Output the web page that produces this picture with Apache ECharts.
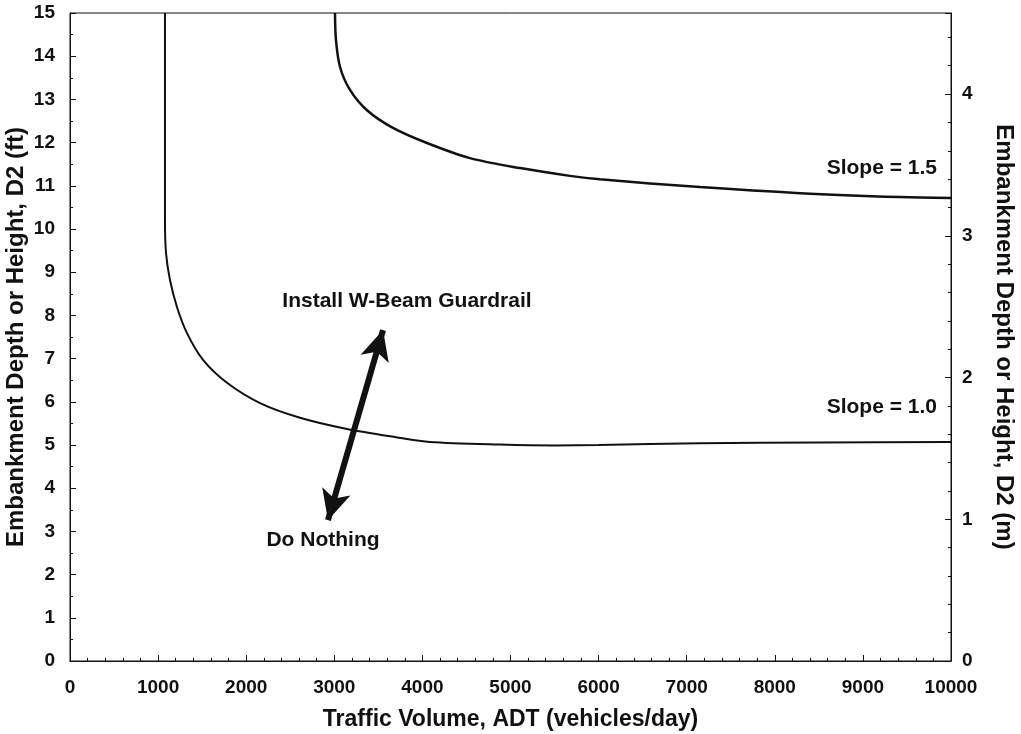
<!DOCTYPE html>
<html>
<head>
<meta charset="utf-8">
<script src="https://cdn.jsdelivr.net/npm/echarts@6/dist/echarts.min.js"></script>
<style>
  html, body { margin: 0; padding: 0; background: #fff; }
  #chart { width: 1021px; height: 734px; }
</style>
</head>
<body>
<div id="chart"></div>
<script>
// curves: [ADT, depth in ft]
const slope10 = [
  [1078, 15], [1078, 10.2], [1090, 9.44], [1135, 8.82], [1215, 8.19],
  [1328, 7.59], [1510, 6.97], [1782, 6.44], [2157, 5.97], [2611, 5.63],
  [3144, 5.37], [3700, 5.18], [4086, 5.07], [4881, 5.01], [5500, 4.99],
  [6000, 5.0], [7151, 5.04], [8500, 5.06], [10000, 5.07]
];
const slope15 = [
  [3008, 15], [3019, 14.37], [3065, 13.75], [3178, 13.22], [3371, 12.75],
  [3666, 12.34], [4052, 11.99], [4540, 11.64], [5108, 11.41], [5675, 11.23],
  [6016, 11.15], [7151, 10.97], [8286, 10.83], [9421, 10.74], [10000, 10.72]
];
const arrowEnds = [[2928, 3.26], [3553, 7.66]];
const notes = [
  { text: 'Install W-Beam Guardrail', at: [3825, 8.33], align: 'center' },
  { text: 'Do Nothing', at: [2872, 2.80], align: 'center' },
  { text: 'Slope = 1.5', at: [9841, 11.41], align: 'right' },
  { text: 'Slope = 1.0', at: [9841, 5.88], align: 'right' }
];
const ftMax = 15;
const mMax = 15 * 0.3048;

const font = 'Liberation Sans, Arial, sans-serif';
const ink = '#111';

let chart = echarts.init(document.getElementById('chart'));

let axisCommon = {
  axisLine: { show: true, lineStyle: { color: ink, width: 1 } },
  axisTick: { show: true, inside: true, length: 6, lineStyle: { color: ink } },
  minorTick: { show: true, length: 3, lineStyle: { color: ink } },
  splitLine: { show: false },
  axisLabel: {
    color: ink, fontFamily: font, fontWeight: 'bold', fontSize: 19,
    formatter: v => String(v)
  },
  nameMoveOverlap: false,
  nameTextStyle: { color: ink, fontFamily: font, fontWeight: 'bold', fontSize: 23 }
};

let option = {
  animation: false,
  backgroundColor: '#fff',
  grid: {
    left: 70, right: 70, top: 13, bottom: 73,
    outerBoundsMode: 'none', containLabel: false,
    show: true, borderColor: ink, borderWidth: 1
  },
  xAxis: Object.assign({}, axisCommon, {
    type: 'value', min: 0, max: 10000, interval: 1000,
    minorTick: Object.assign({}, axisCommon.minorTick, { splitNumber: 5 }),
    axisLabel: Object.assign({}, axisCommon.axisLabel, { margin: 17 }),
    name: 'Traffic Volume, ADT (vehicles/day)',
    nameLocation: 'middle', nameGap: 47
  }),
  yAxis: [
    Object.assign({}, axisCommon, {
      type: 'value', min: 0, max: ftMax, interval: 1, position: 'left',
      minorTick: Object.assign({}, axisCommon.minorTick, { splitNumber: 2 }),
      axisLabel: Object.assign({}, axisCommon.axisLabel, { margin: 15 }),
      name: 'Embankment Depth or Height, D2 (ft)',
      nameLocation: 'middle', nameGap: 42, nameRotate: 90,
      nameTextStyle: Object.assign({}, axisCommon.nameTextStyle, { fontSize: 24 })
    }),
    Object.assign({}, axisCommon, {
      type: 'value', min: 0, max: mMax, interval: 1, position: 'right',
      minorTick: Object.assign({}, axisCommon.minorTick, { splitNumber: 5 }),
      axisLabel: Object.assign({}, axisCommon.axisLabel, { margin: 11, showMaxLabel: false }),
      name: 'Embankment Depth or Height, D2 (m)',
      nameLocation: 'middle', nameGap: 41, nameRotate: -90,
      nameTextStyle: Object.assign({}, axisCommon.nameTextStyle, { fontSize: 24 })
    })
  ],
  series: [
    {
      name: 'Slope = 1.0', type: 'line', data: slope10,
      smooth: 0.3, showSymbol: false,
      lineStyle: { color: ink, width: 2 }
    },
    {
      name: 'Slope = 1.5', type: 'line', data: slope15,
      smooth: 0.3, showSymbol: false,
      lineStyle: { color: ink, width: 2.5 }
    },
    {
      type: 'line', data: [], yAxisIndex: 0,
      markLine: {
        silent: true,
        symbol: ['arrow', 'arrow'],
        symbolSize: [22, 30],
        label: { show: false },
        lineStyle: { color: ink, width: 6, type: 'solid' },
        data: [[{ coord: arrowEnds[0] }, { coord: arrowEnds[1] }]]
      },
      markPoint: {
        silent: true,
        symbol: 'circle', symbolSize: 0,
        data: notes.map(n => ({
          coord: n.at,
          label: {
            show: true, position: 'inside', formatter: n.text,
            align: n.align, verticalAlign: 'middle',
            color: ink, fontFamily: font, fontWeight: 'bold', fontSize: 21
          }
        }))
      }
    }
  ]
};

chart.setOption(option);
</script>
</body>
</html>
